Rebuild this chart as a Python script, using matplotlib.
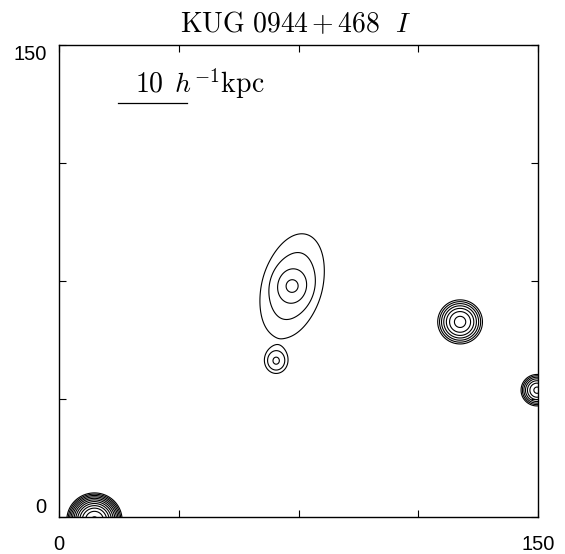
import numpy as np
import matplotlib
matplotlib.use("Agg")
import matplotlib.pyplot as plt

plt.rcParams['mathtext.fontset'] = 'cm'
plt.rcParams['font.family'] = ['Liberation Sans', 'DejaVu Sans']

# image components: centre (pixels), peak, scale length, axis ratio, PA (deg),
# profile exponent: I = amp * exp(-(r/scale)**p), p=2 uses the gaussian form
comp_x = [73.0, 73.0, 73.0, 68.0, 125.6, 149.7, 11.1]
comp_y = [73.4, 73.4, 73.4, 49.6, 62.0, 40.3, -1.0]
comp_amp = [2.48, 5.5, 3.5, 4.3, 85.0, 76.0, 2300.0]
comp_scale = [17.56, 3.5, 1.2, 2.3, 2.35, 1.7, 2.2]
comp_q = [0.55, 0.85, 1.0, 0.9, 1.0, 1.0, 1.0]
comp_pa = [75.0, 80.0, 0.0, 90.0, 0.0, 0.0, 0.0]
comp_p = [3, 2, 2, 2, 2, 2, 2]

# contour levels, factor of 2 apart
levels = 2.0 ** np.arange(0, 13)

size = 150
tick_pos = [0, 37.5, 75, 112.5, 150]
title = r'$\mathrm{KUG\ 0944\,{+}\,468}\ \ I$'
bar_len = 21.6
bar_label = r'$10\ \,h^{-1}\mathrm{kpc}$'

g = np.arange(-10, 160.05, 0.1)
X, Y = np.meshgrid(g, g)
img = np.zeros_like(X)
for x0, y0, a, s, q, pa, p in zip(comp_x, comp_y, comp_amp, comp_scale,
                                  comp_q, comp_pa, comp_p):
    t = np.radians(pa)
    u = (X - x0) * np.cos(t) + (Y - y0) * np.sin(t)
    v = -(X - x0) * np.sin(t) + (Y - y0) * np.cos(t)
    r = np.sqrt(u**2 + (v / q)**2)
    if p == 2:
        img += a * np.exp(-r**2 / (2 * s**2))
    else:
        img += a * np.exp(-(r / s)**p)

fig = plt.figure(figsize=(5.65, 5.54), dpi=100)
ax = fig.add_axes([59/565, 1 - 517/554, 479/565, 472/554])
ax.contour(X, Y, img, levels=levels, colors='black', linewidths=0.8)
ax.set_xlim(0, size)
ax.set_ylim(0, size)

ax.set_xticks(tick_pos)
ax.set_yticks(tick_pos)
ax.set_xticklabels(['0', '', '', '', '150'])
ax.set_yticklabels(['0', '', '', '', '150'])
ax.tick_params(direction='in', length=5, width=0.8, top=True, right=True,
               labelsize=14.5, pad=13)
ax.tick_params(axis='y', pad=9)
ylabs = ax.get_yticklabels()
ylabs[0].set_va('bottom')
ylabs[-1].set_va('top')
for sp in ax.spines.values():
    sp.set_linewidth(1.0)

# scale bar
ax.plot([18.5, 18.5 + bar_len], [131.6, 131.6], color='black', lw=0.9)
ax.text(23.8, 137.8, bar_label, fontsize=20, va='center', ha='left')

fig.text(296/565, 1 - 25/554, title, fontsize=20, ha='center', va='center')

fig.savefig('out.png', dpi=100)
